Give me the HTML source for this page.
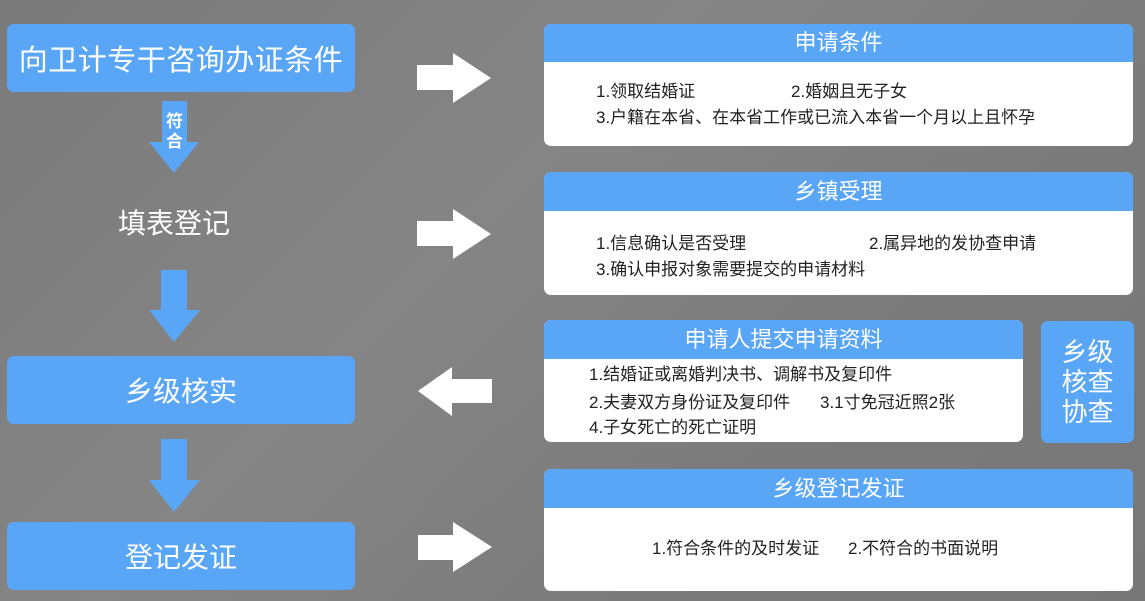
<!DOCTYPE html>
<html><head><meta charset="utf-8"><style>
body{margin:0;width:1145px;height:601px;overflow:hidden;background:linear-gradient(135deg,#7a7a7a,#858585 40%,#7b7b7b 70%,#777);font-family:"Liberation Sans","Noto Sans CJK SC",sans-serif;position:relative}
.a{position:absolute}
.lb{position:absolute;background:#5aa6f6;border-radius:7px;color:#fff;display:flex;align-items:center;justify-content:center;font-size:28px}
.card{position:absolute;background:#fff;border-radius:7px;overflow:hidden}
.hd{background:#5aa6f6;color:#fff;font-size:22px;text-align:center;height:38px;line-height:38px}
.t{position:absolute;font-size:17px;color:#222;white-space:nowrap;line-height:20px}
</style></head><body>
<div class="lb" style="left:7px;top:24px;width:348px;height:68px;font-size:29px;letter-spacing:0.5px">向卫计专干咨询办证条件</div>
<div class="a" style="left:118px;top:206px;width:112px;text-align:center;color:#fff;font-size:28px;line-height:36px">填表登记</div>
<div class="lb" style="left:7px;top:356px;width:348px;height:68px">乡级核实</div>
<div class="lb" style="left:7px;top:522px;width:348px;height:68px">登记发证</div>

<svg class="a" style="left:0;top:0" width="1145" height="601">
<g fill="#5aa6f6">
<polygon points="162,101 187,101 187,142 199,142 174,173 149,142 162,142"/>
<polygon points="161,270 187,270 187,310 200,310 174,342 149,310 161,310"/>
<polygon points="161,439 187,439 187,480 200,480 174,512 149,480 161,480"/>
</g>
<g fill="#fff">
<polygon points="417,65 453,65 453,53 491,78 453,103 453,90 417,90"/>
<polygon points="417,221 453,221 453,209 491,234 453,259 453,246 417,246"/>
<polygon points="492,379 452,379 452,367 418,391 452,416 452,403 492,403"/>
<polygon points="418,535 453,535 453,522 492,547 453,572 453,560 418,560"/>
</g>
</svg>
<div class="a" style="left:162px;top:112px;width:25px;text-align:center;color:#fff;font-size:17px;line-height:20px;font-weight:bold">符<br>合</div>

<div class="card" style="left:544px;top:24px;width:589px;height:122px"><div class="hd">申请条件</div></div>
<div class="t" style="left:596px;top:82px">1.领取结婚证</div>
<div class="t" style="left:791px;top:82px">2.婚姻且无子女</div>
<div class="t" style="left:596px;top:108px">3.户籍在本省、在本省工作或已流入本省一个月以上且怀孕</div>

<div class="card" style="left:544px;top:172px;width:589px;height:123px"><div class="hd" style="height:39px;line-height:39px">乡镇受理</div></div>
<div class="t" style="left:596px;top:234px">1.信息确认是否受理</div>
<div class="t" style="left:869px;top:234px">2.属异地的发协查申请</div>
<div class="t" style="left:596px;top:260px">3.确认申报对象需要提交的申请材料</div>

<div class="card" style="left:544px;top:320px;width:479px;height:122px"><div class="hd" style="height:39px;line-height:39px">申请人提交申请资料</div></div>
<div class="t" style="left:589px;top:365px">1.结婚证或离婚判决书、调解书及复印件</div>
<div class="t" style="left:589px;top:393px">2.夫妻双方身份证及复印件</div>
<div class="t" style="left:820px;top:393px">3.1寸免冠近照2张</div>
<div class="t" style="left:589px;top:418px">4.子女死亡的死亡证明</div>

<div class="lb" style="left:1041px;top:321px;width:93px;height:122px;font-size:26px;line-height:30px;text-align:center">乡级<br>核查<br>协查</div>

<div class="card" style="left:544px;top:469px;width:589px;height:122px"><div class="hd" style="height:39px;line-height:39px">乡级登记发证</div></div>
<div class="t" style="left:652px;top:539px">1.符合条件的及时发证</div>
<div class="t" style="left:848px;top:539px">2.不符合的书面说明</div>
</body></html>
